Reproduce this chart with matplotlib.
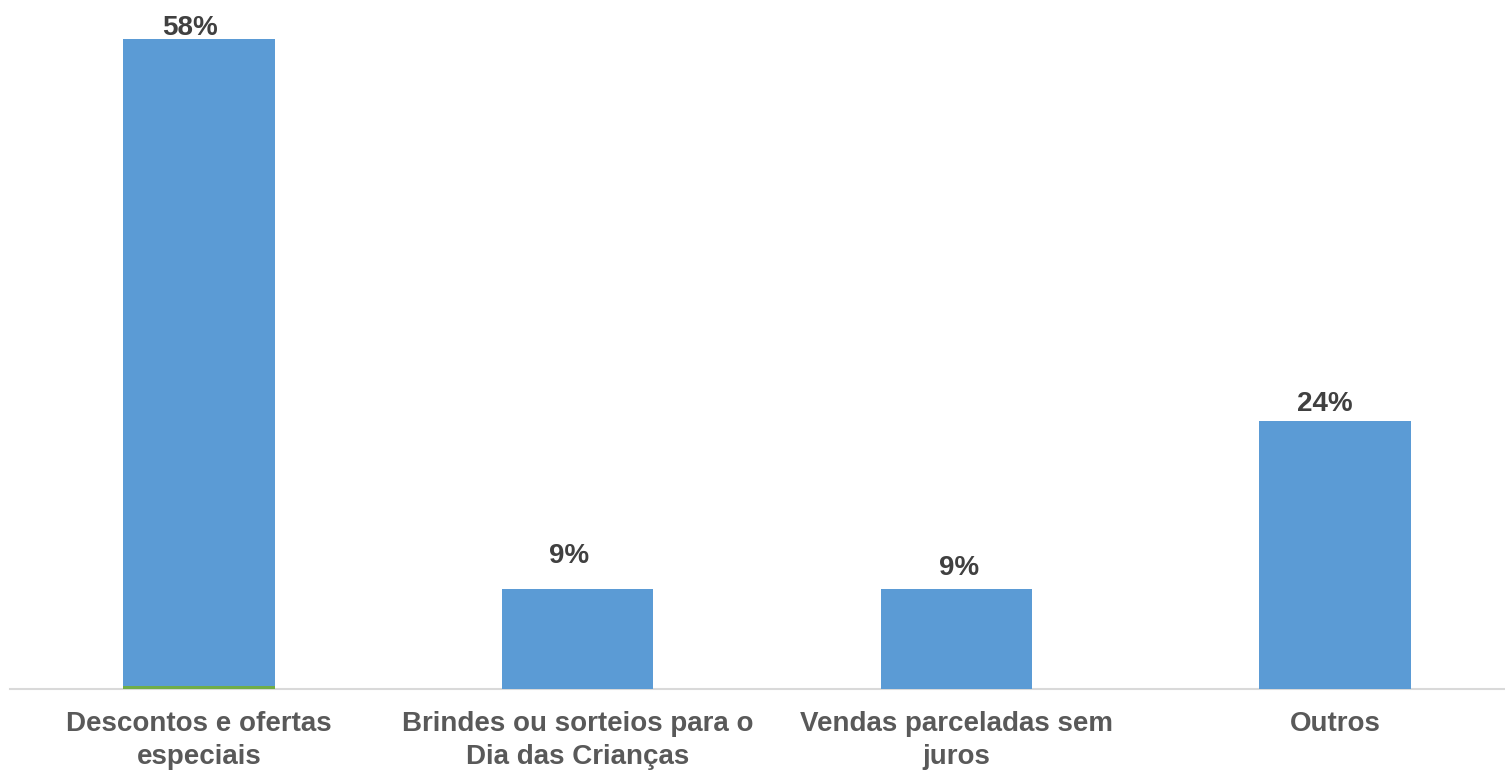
import numpy as np
import matplotlib.pyplot as plt

categorias = ['Descontos e ofertas\nespeciais', 'Brindes ou sorteios para o\nDia das Crianças',
              'Vendas parceladas sem\njuros', 'Outros']
valores = [58, 9, 9, 24]
rotulos = ['58%', '9%', '9%', '24%']
serie_verde = [0.25, 0, 0, 0]
# posicao dos rotulos em relacao ao topo da barra (pixels), como no original
desloc_x = [-9, -9, 3, -10]
desloc_y = [7, 26, 14, 10]

plt.rcParams['font.family'] = ['Liberation Sans', 'DejaVu Sans']

fig = plt.figure(figsize=(15.05, 7.71), dpi=100)
ax = fig.add_axes([10 / 1505, (771 - 689) / 771, 1495 / 1505, 647 / 771 * 60 / 58])

x = np.arange(len(categorias))
ax.bar(x, serie_verde, width=0.40, color='#70AD47', zorder=3)
ax.bar(x, valores, width=0.40, bottom=serie_verde, color='#5B9BD5', zorder=3)

for i in range(len(valores)):
    ax.annotate(rotulos[i], (x[i], valores[i]), xytext=(desloc_x[i], desloc_y[i]),
                textcoords='offset pixels', ha='center', va='baseline',
                fontsize=20, fontweight='bold', color='#404040')

ax.set_xlim(-0.499, 3.449)
ax.set_ylim(0, 60)
ax.set_xticks(x)
ax.set_xticklabels(categorias, fontsize=20, fontweight='bold', color='#595959', linespacing=1.35)
ax.tick_params(axis='x', length=0, pad=16)
ax.set_yticks([])
for s in ['top', 'right', 'left']:
    ax.spines[s].set_visible(False)
ax.spines['bottom'].set_color('#D9D9D9')
ax.spines['bottom'].set_linewidth(1.5)

fig.savefig('out.png', dpi=100)
